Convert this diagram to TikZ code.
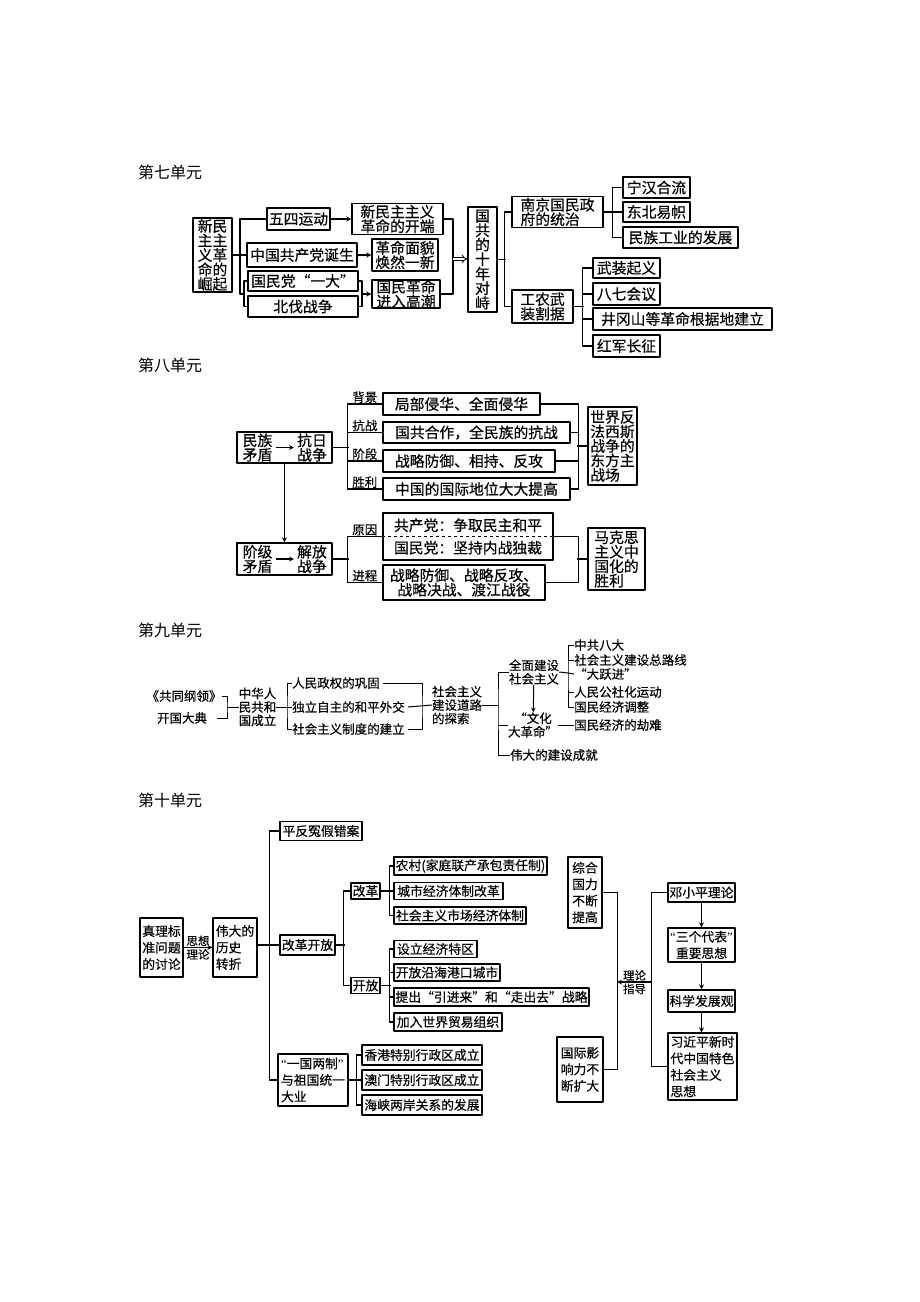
\documentclass[tikz,border=0pt]{standalone}
\usepackage{fontspec}
\setmainfont{Noto Sans CJK SC}[FakeBold=0.4]
\newfontfamily\ttlfont{Noto Sans CJK SC}
\newfontfamily\qf{Liberation Serif}
\newcommand{\zq}{{\qf “}}
\newcommand{\yq}{{\qf ”}}
\usetikzlibrary{arrows.meta}

\begin{document}
\begin{tikzpicture}[>=stealth,x=1pt,y=-1pt,line join=round,
  every node/.style={inner sep=0pt},
  sz/.style 2 args={minimum width=#1pt,minimum height=#2pt},
  ttl/.style={anchor=west,font=\ttlfont\fontsize{16}{16}\selectfont},
  bx/.style={draw,line width=1.4pt,align=center,font=\fontsize{14.8}{14.5}\selectfont},
  it/.style={align=center,font=\fontsize{14.8}{14.5}\selectfont},
  bt/.style={draw,line width=1.3pt,align=center,font=\fontsize{12.8}{16.5}\selectfont},
  tx/.style={align=center,font=\fontsize{12.5}{13.5}\selectfont},
  lbl/.style={above=0.5pt,font=\fontsize{12.5}{12.5}\selectfont},
  sl/.style={font=\fontsize{11.5}{11.5}\selectfont},
  lk/.style={line width=1.2pt},
  lt/.style={line width=1pt}]
\useasboundingbox (0,0) rectangle (920,1302);

%% 第七单元
\node[ttl] (h7) at (138,172) {第七单元};
\node[bx,sz={39}{74}] (xm) at (212.5,255) {新民\\主主\\义革\\命的\\崛起};
\node[bx,sz={63}{22}] (ws) at (298.5,219) {五四运动};
\node[bx,sz={91}{31}] (kd) at (397.5,219) {新民主主义\\革命的开端};
\node[bx,sz={110}{24}] (zg) at (302,255) {中国共产党诞生};
\node[bx,sz={66}{32}] (mm) at (405,255) {革命面貌\\焕然一新};
\node[bx,sz={110}{20}] (gmd) at (303,281) {国民党“一大”};
\node[bx,sz={110}{21}] (bf) at (303,306.5) {北伐战争};
\node[bx,sz={68}{28}] (gm) at (406,294) {国民革命\\进入高潮};
\node[bx,sz={29}{105}] (gg) at (482.5,259.5) {国\\共\\的\\十\\年\\对\\峙};
\node[bx,sz={91}{31},align=left] (nj) at (557.5,212) {南京国民政\\府的统治};
\node[bx,sz={61}{33}] (gn) at (542.5,306.5) {工农武\\装割据};
\node[bx,sz={67}{21}] (nh) at (656.5,187.5) {宁汉合流};
\node[bx,sz={67}{20}] (db) at (656.5,212) {东北易帜};
\node[bx,sz={115}{21}] (mz) at (680.5,237.5) {民族工业的发展};
\node[bx,sz={67}{20}] (wz) at (626.5,268) {武装起义};
\node[bx,sz={67}{22}] (bq) at (626.5,294) {八七会议};
\node[bx,sz={179}{22}] (jg) at (682.5,319) {井冈山等革命根据地建立};
\node[bx,sz={67}{22}] (hj) at (626.5,346) {红军长征};
\coordinate (lb7) at (244,294);
\coordinate (rb7) at (362,294);
\coordinate (j7) at (453,259);
\draw[lk] (xm.east) -- (zg.west);
\draw[lk] (ws.west) -| (240,294) -- (lb7);
\draw[lk] (gmd.west) -| (lb7) |- (bf.west);
\draw[lk] (gmd.east) -| (rb7) |- (bf.east);
\draw[lk,->] (rb7) -- (gm.west);
\draw[lk,->] (ws.east) -- (kd.west);
\draw[lk,->] (zg.east) -- (mm.west);
\draw[lk] (kd.east) -| (j7) |- (gm.east);
\draw[double,double distance=2pt,line width=0.8pt,-Implies] (j7) -- (gg.west |- j7); % 双线箭头
\draw[lk] (gg.east) -- ++(8,0);
\draw[lk] (nj.west) -- ++(-7,0) |- (gn.west);
\draw[lk] (nj.east) -- (db.west);
\draw[lk] (nh.west) -- ++(-10,0) |- (mz.west);
\draw[lk] (gn.east) -- ++(10,0);
\draw[lk] (wz.west) -- ++(-10,0) |- (hj.west);
\draw[lk] (bq.west) -- ++(-10,0) (jg.west) -- ++(-10,0);

%% 第八单元
\node[ttl] (h8) at (138,365) {第八单元};
\node[bx,sz={95}{31}] (kr) at (284.5,447.5) {};
\node[it] (kr1) at (257.5,447.5) {民族\\矛盾};
\node[it] (kr2) at (312,447.5) {抗日\\战争};
\draw[lk,->,shorten <=3pt,shorten >=3pt] (kr1) -- (kr2);
\node[bx,sz={95}{32}] (jf) at (284.5,559) {};
\node[it] (jf1) at (257.5,559) {阶级\\矛盾};
\node[it] (jf2) at (312,559) {解放\\战争};
\draw[lk,->,shorten <=3pt,shorten >=3pt] (jf1) -- (jf2);
\draw[lk,->] (kr) -- (jf);
\node[bx,sz={157}{22}] (bj) at (461.5,404) {局部侵华、全面侵华};
\node[bx,sz={187}{21}] (gh) at (476.5,432.5) {国共合作，全民族的抗战};
\node[bx,sz={172}{22}] (zl) at (469,461) {战略防御、相持、反攻};
\node[bx,sz={187}{22}] (gj) at (476.5,489) {中国的国际地位大大提高};
\node[bx,sz={49}{78},align=left] (sj) at (612.5,446) {世界反\\法西斯\\战争的\\东方主\\战场};
\draw[lk] (kr.east) -- ++(16,0);
\foreach \n/\t in {bj/背景,gh/抗战,zl/阶段,gj/胜利}
  \draw[lk] (\n.west) -- node[lbl]{\t} ++(-35,0);
\draw[lk] ([xshift=-35pt]bj.west) -- ([xshift=-35pt]gj.west);
\draw[lk] (bj.east) -| ([xshift=8pt]gj.east) -- (gj.east);
\draw[lk] (gh.east) -- ++(8,0);
\draw[lk] (zl.east) -- ++(23,0);
\draw[lk] (sj.west) -- ++(-10,0);
\node[bx,sz={170}{47}] (gc) at (468,536.5) {共产党：争取民主和平\\[8pt]国民党：坚持内战独裁};
\draw[dashed,line width=1pt] (gc.west) -- (gc.east);
\node[bx,sz={162}{35}] (jc) at (464,582.5) {战略防御、战略反攻、\\战略决战、渡江战役};
\node[bx,sz={57}{62},align=left] (mk) at (616.5,559) {马克思\\主义中\\国化的\\胜利};
\draw[lk] (jf.east) -- ++(16,0);
\draw[lk] (gc.west) -- node[lbl]{原因} ++(-35,0);
\draw[lk] (jc.west) -- node[lbl]{进程} ++(-35,0);
\draw[lk] ([xshift=-35pt]gc.west) -- ([xshift=-35pt]jc.west);
\draw[lk] (gc.east) -- ++(25,0) |- (jc.east);
\draw[lk] (mk.west) -- ++(-10,0);

%% 第九单元
\node[ttl] (h9) at (138,630) {第九单元};
\node[tx] (gt) at (184,696) {《共同纲领》};
\node[tx] (kg) at (182,718) {开国大典};
\node[tx] (zh) at (257.5,707) {中华人\\民共和\\国成立};
\node[tx,anchor=west] (r1) at (292,683) {人民政权的巩固};
\node[tx,anchor=west] (r2) at (292,707) {独立自主的和平外交};
\node[tx,anchor=west] (r3) at (292,729) {社会主义制度的建立};
\node[tx,align=left] (ts) at (457,705) {社会主义\\建设道路\\的探索};
\node[tx] (qm) at (534,672) {全面建设\\社会主义};
\node[tx] (wh) at (533,725) {“文化\\大革命”};
\node[tx,anchor=west] (wd) at (510,755) {伟大的建设成就};
\node[tx,anchor=west] (c1) at (574,645) {中共八大};
\node[tx,anchor=west] (c2) at (574,660) {社会主义建设总路线};
\node[tx,anchor=west] (c3) at (574,674) {“大跃进”};
\node[tx,anchor=west] (c4) at (574,692) {人民公社化运动};
\node[tx,anchor=west] (c5) at (574,707) {国民经济调整};
\node[tx,anchor=west] (jn) at (574,725) {国民经济的劫难};
\coordinate (b1) at (227,707);
\coordinate (b2) at (287,707);
\coordinate (b3) at (422,707);
\coordinate (b4) at (498,705);
\coordinate (b5) at (568,673);
\draw[lt] (gt.east) -| (b1) |- ([xshift=10pt]kg.east);
\draw[lt] (b1) -- (zh.west);
\draw[lt] (zh.east) -- (r2.west);
\draw[lt] (r1.west) -| (b2) |- (r3.west);
\draw[lt] ([xshift=3pt]r1.east) -| (b3) |- ([xshift=3pt]r3.east);
\draw[lt] ([xshift=3pt]r2.east) -- (ts.west);
\draw[lt] (ts.east) -- (b4);
\draw[lt] (qm.west) -| (b4) |- (wd.west);
\draw[lt] (b4 |- wh.west) -- (wh.west);
\draw[lt,->] (qm) -- (wh);
\draw[lt] (qm.east) -- (b5);
\draw[lt] (c1.west) -| (b5) |- (c5.west);
\draw[lt] (c2.west) -- (c2.west -| b5);
\draw[lt] (b5) -- (c3.west);
\draw[lt] (c4.west) -- (c4.west -| b5);
\draw[lt] (wh.east) -- (jn.west);

%% 第十单元
\node[ttl] (h10) at (138,800) {第十单元};
\node[bt,sz={43}{59}] (zl10) at (161.5,947.5) {真理标\\准问题\\的讨论};
\node[bt,sz={44}{59},align=left] (wd10) at (235,947.5) {伟大的\\历史\\转折};
\draw[lk,->] (zl10.east) -- node[above=1pt,sl]{思想} node[below=1pt,sl]{理论} (wd10.west);
\node[bt,sz={82}{19}] (pf) at (321,831) {平反冤假错案};
\node[bt,sz={55}{20}] (gk) at (307.5,945) {改革开放};
\node[bt,sz={70}{52},align=left] (yg) at (313,1080) {\zq 一国两制\yq\\与祖国统一\\大业};
\draw[lk] (pf.west) -- ++(-10,0) |- (yg.west);
\draw[lk] (wd10.east |- gk.west) -- (gk.west);
\node[bt,sz={29}{16}] (gg10) at (365.5,891) {改革};
\node[bt,sz={29}{16}] (kf) at (365.5,985.5) {开放};
\draw[lk] (gk.east) -- ++(9.5,0);
\draw[lk] (gg10.west) -- ++(-6.5,0) |- (kf.west);
\node[bt,sz={153}{18}] (n1) at (470.5,866) {农村(家庭联产承包责任制)};
\node[bt,sz={109}{17}] (n2) at (448.5,891) {城市经济体制改革};
\node[bt,sz={132}{17}] (n3) at (460,915.5) {社会主义市场经济体制};
\draw[lk] (n1.west) -- ++(-4,0) |- (n3.west);
\draw[lk] (gg10.east) -- (n2.west);
\node[bt,sz={83}{17}] (k1) at (435.5,949) {设立经济特区};
\node[bt,sz={106}{17}] (k2) at (447,972.5) {开放沿海港口城市};
\node[bt,sz={195}{18}] (k3) at (491.5,997) {提出“引进来”和“走出去”战略};
\node[bt,sz={108}{18}] (k4) at (448,1022) {加入世界贸易组织};
\draw[lk] (k1.west) -- ++(-4,0) |- (k4.west);
\draw[lk] (kf.east) -- ++(10,0);
\draw[lk] (k2.west) -- ++(-4,0) (k3.west) -- ++(-4,0);
\node[bt,sz={120}{20}] (a1) at (422,1055) {香港特别行政区成立};
\node[bt,sz={120}{20}] (a2) at (422,1080) {澳门特别行政区成立};
\node[bt,sz={120}{20}] (a3) at (422,1105) {海峡两岸关系的发展};
\draw[lk] (yg.east) -- (a2.west);
\draw[lk] (a1.west) -- ++(-5,0) |- (a3.west);
\node[bt,sz={34}{71}] (zh10) at (585,892.5) {综合\\国力\\不断\\提高};
\node[bt,sz={46}{65}] (gy) at (580,1069.5) {国际影\\响力不\\断扩大};
\draw[lk] (zh10.east) -- ++(15,0) |- (gy.east);
\node[bt,sz={67}{19}] (dx) at (701.5,892.5) {邓小平理论};
\node[bt,sz={67}{34}] (sg) at (701.5,945) {\zq 三个代表\yq\\重要思想};
\node[bt,sz={67}{22}] (kx) at (701.5,1001) {科学发展观};
\node[bt,sz={69}{67},align=left] (xj) at (702.5,1066.5) {习近平新时\\代中国特色\\社会主义\\思想};
\draw[lk,->] (dx) -- (sg);
\draw[lk,->] (sg) -- (kx);
\draw[lk,->] (kx.south) -- (kx.south |- xj.north);
\draw[lk] (dx.west) -- ++(-16,0) |- (xj.west);
\coordinate (ld) at (652,982);
\coordinate (lz) at (617,982);
\draw[lk,->] (ld) -- node[above=1pt,sl]{理论} node[below=1pt,sl]{指导} (lz); % 理论指导
\end{tikzpicture}
\end{document}
